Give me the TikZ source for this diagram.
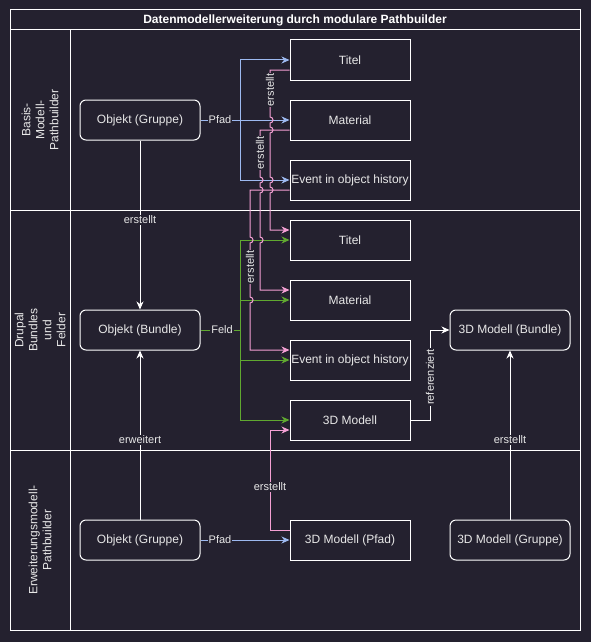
\documentclass[tikz,border=0pt]{standalone}
\usepackage{fontspec}
\setmainfont{Liberation Sans}
\usetikzlibrary{arrows.meta}
\definecolor{bg}{HTML}{24212F}
\definecolor{bl}{HTML}{9DB9F0}
\definecolor{pk}{HTML}{F4A0D4}
\definecolor{gn}{HTML}{60A830}
\definecolor{tx}{HTML}{E8E8E8}
\def\J{ .. controls +(4,0) and +(4,0) .. ++(0,6)}
\begin{document}
\begin{tikzpicture}[x=1pt,y=-1pt,
  box/.style={draw=white, line width=1pt, minimum width=120pt, minimum height=40pt, inner sep=0pt, text=tx, font=\fontsize{12}{14}\selectfont},
  rbox/.style={box, rounded corners=6pt},
  lbl/.style={fill=bg, inner sep=1pt, text=tx, font=\fontsize{11}{13}\selectfont},
  lane/.style={text=tx, align=center, rotate=90, font=\fontsize{12}{14}\selectfont},
  arr/.style={-{Stealth[length=8pt,width=7pt,inset=2.5pt]}},
  ln/.style={line width=1pt},
  frame/.style={draw=white, line width=1pt}]
\fill[bg] (0,0) rectangle (591,642);
\useasboundingbox (0,0) rectangle (591,642);
% frame
\draw[frame] (10,10) rectangle (580,630);
\draw[frame] (10,30) -- (580,30);
\draw[frame] (10,210) -- (580,210);
\draw[frame] (10,450) -- (580,450);
\draw[frame] (70,30) -- (70,630);
\node[text=white, font=\bfseries\fontsize{12}{14}\selectfont] (title) at (295,20) {Datenmodellerweiterung durch modulare Pathbuilder};
\node[lane] (l1) at (40,120) {Basis-\\Modell-\\Pathbuilder};
\node[lane] (l2) at (40,330) {Drupal\\Bundles\\und\\Felder};
\node[lane] (l3) at (40,540) {Erweiterungsmodell-\\Pathbuilder};
% nodes
\node[rbox] (og1) at (140,120) {Objekt (Gruppe)};
\node[box] (t1) at (350,60) {Titel};
\node[box] (m1) at (350,120) {Material};
\node[box] (e1) at (350,180) {Event in object history};
\node[rbox] (ob) at (140,330) {Objekt (Bundle)};
\node[box] (t2) at (350,240) {Titel};
\node[box] (m2) at (350,300) {Material};
\node[box] (e2) at (350,360) {Event in object history};
\node[box] (dm) at (350,420) {3D Modell};
\node[rbox] (db) at (510,330) {3D Modell (Bundle)};
\node[rbox] (og2) at (140,540) {Objekt (Gruppe)};
\node[box] (dp) at (350,540) {3D Modell (Pfad)};
\node[rbox] (dg) at (510,540) {3D Modell (Gruppe)};
\coordinate (pj) at (240,120);
\coordinate (gj) at (240,330);
% blue
\draw[ln, bl, arr] (og1.east) -- (m1.west);
\draw[ln, bl, arr] (pj) |- (t1.west);
\draw[ln, bl, arr] (pj) |- (e1.west);
\node[lbl] at (220,120) {Pfad};
% green
\draw[ln, gn] (ob.east) -- (gj);
\draw[ln, gn, arr] (gj) |- (t2.west);
\draw[ln, gn, arr] (gj) |- (m2.west);
\draw[ln, gn, arr] (gj) |- (e2.west);
\draw[ln, gn, arr] (gj) |- (dm.west);
\node[lbl] at (222,330) {Feld};
% pink
\draw[ln, pk, arr] ([yshift=-10pt]t1.west) -- (270,70) -- (270,117) \J -- (270,127) \J -- (270,177) \J -- (270,187) \J |- ([yshift=10pt]t2.west);
\draw[ln, pk, arr] ([yshift=-10pt]m1.west) -- (260,130) -- (260,177) \J -- (260,187) \J -- (260,237) \J |- ([yshift=10pt]m2.west);
\draw[ln, pk, arr] ([yshift=-10pt]e1.west) -- (250,190) -- (250,237) \J -- (250,297) \J |- ([yshift=10pt]e2.west);
\draw[ln, pk, arr] ([yshift=10pt]dp.west) -- (270,530) |- ([yshift=-10pt]dm.west);
\node[lbl, rotate=90] at (270,90) {erstellt};
\node[lbl, rotate=90] at (260,153) {erstellt};
\node[lbl, rotate=90] at (250,267) {erstellt};
\node[lbl] at (270,487) {erstellt};
\draw[ln, bl, arr] (og2.east) -- (dp.west);
\node[lbl] at (220,540) {Pfad};
% white
\draw[ln, white, arr] (og1.south) -- (ob.north);
\node[lbl] at (140,220) {erstellt};
\draw[ln, white, arr] (og2.north) -- (ob.south);
\node[lbl] at (140,440) {erweitert};
\draw[ln, white, arr] (dg.north) -- (db.south);
\node[lbl] at (510,440) {erstellt};
\draw[ln, white, arr] (dm.east) -- ++(20,0) |- (db.west);
\node[lbl, rotate=90] at (430,377) {referenziert};
\end{tikzpicture}
\end{document}
